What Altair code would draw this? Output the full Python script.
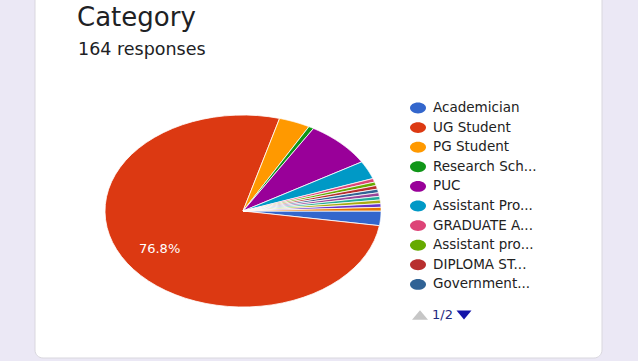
import altair as alt
import pandas as pd

# ---- data ----
categories = ["Academician", "UG Student", "PG Student", "Research Sch...", "PUC",
              "Assistant Pro...", "GRADUATE A...", "Assistant pro...", "DIPLOMA ST...",
              "Government...", "Other 1", "Other 2", "Other 3", "Other 4", "Other 5"]
counts = [4, 126, 6, 1, 13, 5, 1, 1, 1, 1, 1, 1, 1, 1, 1]
colors = ["#3366cc", "#dc3912", "#ff9900", "#109618", "#990099", "#0099c6", "#dd4477",
          "#66aa00", "#b82e2e", "#316395", "#994499", "#22aa99", "#aaaa11", "#6633cc", "#e67300"]
legend_shown = categories[:10]
title_text = ["Category"]
subtitle_text = ["164 responses"]
pager_text = ["1/2"]

df = pd.DataFrame({"category": categories, "count": counts, "idx": list(range(len(categories)))})

FONT = "DejaVu Sans"
N = 60

xscale = alt.Scale(domain=[-1, 1], range=[105, 381], nice=False, zero=False)
yscale = alt.Scale(domain=[-1, 1], range=[307, 115], nice=False, zero=False)

base = (
    alt.Chart(df)
    .transform_joinaggregate(total="sum(count)")
    .transform_window(cum="sum(count)", sort=[alt.SortField("idx")], frame=[None, 0])
    .transform_calculate(
        start_deg="90 + 360 * (datum.cum - datum.count) / datum.total",
        end_deg="90 + 360 * datum.cum / datum.total",
    )
)

pie = (
    base.transform_calculate(steps=f"sequence(0, {N + 3})")
    .transform_flatten(["steps"])
    .transform_calculate(
        frac=f"clamp((datum.steps - 1) / {N}, 0, 1)",
        is_center=f"datum.steps == 0 || datum.steps == {N + 2}",
    )
    .transform_calculate(
        ang="(datum.start_deg + (datum.end_deg - datum.start_deg) * datum.frac) * PI / 180"
    )
    .transform_calculate(
        px="datum.is_center ? 0 : sin(datum.ang)",
        py="datum.is_center ? 0 : cos(datum.ang)",
    )
    .mark_line(filled=True, stroke="white", strokeWidth=0.8, strokeJoin="round")
    .encode(
        x=alt.X("px:Q", scale=xscale, axis=None),
        y=alt.Y("py:Q", scale=yscale, axis=None),
        color=alt.Color(
            "category:N",
            scale=alt.Scale(domain=categories, range=colors),
            legend=alt.Legend(
                title=None,
                values=legend_shown,
                orient="none",
                legendX=410,
                legendY=100,
                padding=0,
                symbolType="M-1,0A1,0.68,0,1,1,1,0A1,0.68,0,1,1,-1,0Z",
                symbolSize=256,
                symbolStrokeWidth=0,
                symbolOpacity=1,
                labelFont=FONT,
                labelFontSize=13.5,
                labelColor="#222222",
                labelOffset=7,
                labelLimit=200,
                rowPadding=4.6,
            ),
        ),
        order=alt.Order("steps:Q"),
    )
)

label = (
    base.transform_filter("datum.count / datum.total > 0.1")
    .transform_calculate(mid="(datum.start_deg + datum.end_deg) / 2 * PI / 180")
    .transform_calculate(
        lx="0.72 * sin(datum.mid)",
        ly="0.72 * cos(datum.mid)",
        txt="format(datum.count / datum.total, '.1%')",
    )
    .mark_text(color="white", font=FONT, fontSize=13, align="center", baseline="middle")
    .encode(
        x=alt.X("lx:Q", scale=xscale, axis=None),
        y=alt.Y("ly:Q", scale=yscale, axis=None),
        text="txt:N",
    )
)

card = (
    alt.Chart(pd.DataFrame({"a": [0]}))
    .mark_rect(color="white", cornerRadius=8, stroke="#d9d7de", strokeWidth=1)
    .encode(x=alt.value(35), x2=alt.value(602), y=alt.value(-20), y2=alt.value(358))
)

title = (
    alt.Chart(pd.DataFrame({"t": title_text}))
    .mark_text(font=FONT, fontSize=26, color="#202124", align="left", baseline="alphabetic")
    .encode(text="t:N", x=alt.value(77), y=alt.value(26))
)
subtitle = (
    alt.Chart(pd.DataFrame({"t": subtitle_text}))
    .mark_text(font=FONT, fontSize=17.5, color="#202124", align="left", baseline="alphabetic")
    .encode(text="t:N", x=alt.value(78), y=alt.value(55))
)

tri_up = (
    alt.Chart(pd.DataFrame({"a": [0]}))
    .mark_point(shape="M0,-0.6L1,0.6L-1,0.6Z", filled=True, color="#c6c6c6", size=256, opacity=1)
    .encode(x=alt.value(420), y=alt.value(315))
)
pager = (
    alt.Chart(pd.DataFrame({"t": pager_text}))
    .mark_text(font=FONT, fontSize=13, color="#1f2a80", align="left", baseline="middle")
    .encode(text="t:N", x=alt.value(432), y=alt.value(315))
)
tri_down = (
    alt.Chart(pd.DataFrame({"a": [0]}))
    .mark_point(shape="M-1,-0.6L1,-0.6L0,0.6Z", filled=True, color="#1414a8", size=225, opacity=1)
    .encode(x=alt.value(464), y=alt.value(315))
)

chart = (
    alt.layer(card, pie, label, title, subtitle, tri_up, pager, tri_down)
    .properties(width=638, height=361, autosize="none", padding=0, background="#ebe8f5")
    .configure_view(stroke=None)
)

chart.save("out.html", embed_options={"renderer": "svg", "actions": False})
